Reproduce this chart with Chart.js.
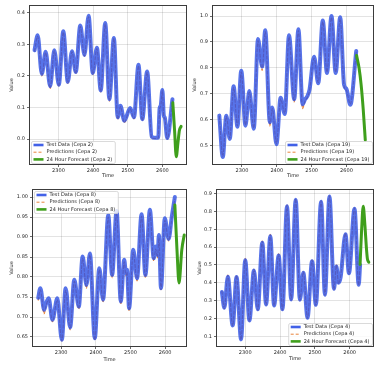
<!DOCTYPE html>
<html><head><meta charset="utf-8">
<script src="https://cdn.jsdelivr.net/npm/chart.js@4.4.1/dist/chart.umd.min.js"></script>
<style>
html,body{margin:0;padding:0;background:#fff;width:375px;height:366px;overflow:hidden}
canvas{position:absolute}
</style></head><body>
<canvas id="c1" width="190" height="183" style="left:0;top:0"></canvas>
<canvas id="c2" width="188" height="183" style="left:187px;top:0"></canvas>
<canvas id="c3" width="190" height="183" style="left:0;top:183px"></canvas>
<canvas id="c4" width="188" height="183" style="left:187px;top:183px"></canvas>
<script>
// ---------- data ----------
const xTicks = [2300, 2400, 2500, 2600];

// Cepa 2
const time1 = [2231, 2240, 2252, 2263, 2276, 2288, 2301, 2314, 2327, 2339, 2350, 2363, 2375, 2387, 2399, 2411, 2422, 2435, 2447, 2460, 2471, 2479, 2490, 2507, 2518, 2531, 2542, 2556, 2569, 2579, 2588, 2592, 2595, 2600, 2604, 2607, 2614, 2629];
const test1 = [0.281, 0.328, 0.206, 0.276, 0.167, 0.281, 0.172, 0.341, 0.181, 0.278, 0.212, 0.359, 0.266, 0.390, 0.209, 0.289, 0.154, 0.367, 0.126, 0.320, 0.069, 0.105, 0.058, 0.098, 0.069, 0.235, 0.063, 0.214, 0.008, 0.004, 0.005, 0.098, 0.105, 0.155, 0.075, 0.068, 0.003, 0.126];
const pred1 = [0.278, 0.325, 0.200, 0.273, 0.160, 0.279, 0.166, 0.338, 0.176, 0.276, 0.207, 0.356, 0.262, 0.387, 0.204, 0.286, 0.149, 0.364, 0.120, 0.318, 0.062, 0.103, 0.052, 0.096, 0.064, 0.232, 0.058, 0.211, 0.004, 0.002, 0.003, 0.095, 0.103, 0.153, 0.071, 0.065, 0.000, 0.123];
const fcTime1 = [2630, 2635, 2640, 2645, 2649, 2654];
const fc1 = [0.115, 0.030, -0.056, -0.010, 0.027, 0.040];
const yTicks1 = [0.0, 0.1, 0.2, 0.3, 0.4];
const labels1 = ['Test Data (Cepa 2)', 'Predictions (Cepa 2)', '24 Hour Forecast (Cepa 2)'];

// Cepa 19
const time2 = [2235, 2245, 2255, 2265, 2276, 2287, 2298, 2310, 2321, 2334, 2346, 2358, 2367, 2380, 2387, 2399, 2411, 2423, 2435, 2450, 2462, 2474, 2481, 2488, 2494, 2507, 2519, 2532, 2544, 2557, 2569, 2582, 2593, 2600, 2611, 2628];
const test2 = [0.615, 0.455, 0.615, 0.525, 0.729, 0.572, 0.789, 0.576, 0.710, 0.564, 0.911, 0.805, 0.945, 0.589, 0.646, 0.504, 0.684, 0.621, 0.926, 0.678, 0.949, 0.659, 0.678, 0.691, 0.716, 0.843, 0.740, 0.983, 0.780, 1.000, 0.780, 0.996, 0.735, 0.718, 0.657, 0.865];
const pred2 = [0.612, 0.458, 0.612, 0.528, 0.724, 0.575, 0.784, 0.579, 0.706, 0.567, 0.905, 0.790, 0.940, 0.575, 0.642, 0.507, 0.680, 0.624, 0.920, 0.668, 0.944, 0.642, 0.672, 0.686, 0.712, 0.838, 0.743, 0.978, 0.783, 0.995, 0.783, 0.990, 0.730, 0.712, 0.660, 0.860];
const fcTime2 = [2629, 2636, 2642, 2648, 2654];
const fc2 = [0.848, 0.800, 0.735, 0.640, 0.520];
const yTicks2 = [0.5, 0.6, 0.7, 0.8, 0.9, 1.0];
const labels2 = ['Test Data (Cepa 19)', 'Predictions (Cepa 19)', '24 Hour Forecast (Cepa 19)'];

// Cepa 8
const time3 = [2234, 2240, 2251, 2257, 2264, 2275, 2289, 2302, 2313, 2326, 2338, 2351, 2362, 2373, 2383, 2397, 2410, 2421, 2436, 2447, 2460, 2472, 2482, 2487, 2490, 2496, 2508, 2519, 2532, 2543, 2556, 2567, 2573, 2578, 2582, 2588, 2599, 2610, 2619, 2628];
const test3 = [0.748, 0.772, 0.718, 0.735, 0.747, 0.693, 0.747, 0.643, 0.772, 0.674, 0.793, 0.726, 0.851, 0.780, 0.859, 0.647, 0.822, 0.743, 0.955, 0.805, 0.965, 0.739, 0.843, 0.810, 0.818, 0.722, 0.868, 0.797, 0.957, 0.805, 0.968, 0.847, 0.876, 0.855, 0.905, 0.772, 0.947, 0.895, 0.950, 1.000];
const pred3 = [0.742, 0.768, 0.708, 0.730, 0.743, 0.688, 0.743, 0.640, 0.767, 0.668, 0.789, 0.720, 0.846, 0.772, 0.855, 0.642, 0.818, 0.738, 0.950, 0.798, 0.960, 0.732, 0.838, 0.803, 0.812, 0.715, 0.862, 0.790, 0.952, 0.798, 0.962, 0.840, 0.870, 0.848, 0.898, 0.768, 0.942, 0.890, 0.945, 0.995];
const fcTime3 = [2628, 2634, 2640, 2648, 2655];
const fc3 = [0.980, 0.870, 0.785, 0.868, 0.905];
const yTicks3 = [0.65, 0.70, 0.75, 0.80, 0.85, 0.90, 0.95, 1.00];
const labels3 = ['Test Data (Cepa 8)', 'Predictions (Cepa 8)', '24 Hour Forecast (Cepa 8)'];

// Cepa 4
const time4 = [2233, 2240, 2250, 2264, 2275, 2288, 2300, 2312, 2325, 2336, 2349, 2360, 2372, 2383, 2396, 2407, 2420, 2432, 2445, 2457, 2467, 2479, 2492, 2503, 2518, 2529, 2542, 2555, 2562, 2568, 2574, 2588, 2598, 2614, 2626, 2630];
const test4 = [0.348, 0.260, 0.434, 0.161, 0.432, 0.083, 0.527, 0.189, 0.469, 0.251, 0.624, 0.279, 0.661, 0.273, 0.553, 0.251, 0.829, 0.307, 0.866, 0.305, 0.456, 0.204, 0.521, 0.277, 0.855, 0.333, 0.884, 0.366, 0.491, 0.400, 0.430, 0.672, 0.454, 0.815, 0.389, 0.500];
const pred4 = [0.352, 0.255, 0.444, 0.158, 0.442, 0.080, 0.537, 0.185, 0.476, 0.246, 0.634, 0.275, 0.672, 0.270, 0.562, 0.247, 0.836, 0.303, 0.872, 0.300, 0.462, 0.200, 0.528, 0.273, 0.860, 0.330, 0.888, 0.362, 0.500, 0.396, 0.434, 0.678, 0.450, 0.820, 0.386, 0.497];
const fcTime4 = [2630, 2634, 2639, 2644, 2648, 2651, 2655];
const fc4 = [0.503, 0.680, 0.829, 0.720, 0.600, 0.535, 0.515];
const yTicks4 = [0.1, 0.2, 0.3, 0.4, 0.5, 0.6, 0.7, 0.8, 0.9];
const labels4 = ['Test Data (Cepa 4)', 'Predictions (Cepa 4)', '24 Hour Forecast (Cepa 4)'];

// ---------- styles ----------
const TEST_COLOR = 'rgba(45,80,228,0.8)';
const PRED_COLOR = '#e8833a';
const FC_COLOR = '#3f9f1c';
const FONT = '"DejaVu Sans", sans-serif';
const TXT = '#262626';

const framePlugin = {
  id: 'frame',
  afterDraw(chart) {
    const ctx = chart.ctx, a = chart.chartArea;
    ctx.save();
    ctx.strokeStyle = '#3c3c3c';
    ctx.lineWidth = 1;
    ctx.strokeRect(Math.round(a.left) + 0.5, Math.round(a.top) + 0.5,
                   Math.round(a.right - a.left) - 1, Math.round(a.bottom - a.top) - 1);
    ctx.restore();
  }
};

const legendPlugin = {
  id: 'boxLegend',
  afterDraw(chart, args, o) {
    const ctx = chart.ctx, a = chart.chartArea;
    ctx.save();
    ctx.font = o.fontSize + 'px ' + FONT;
    const tw = Math.max(...o.labels.map(t => ctx.measureText(t).width));
    const w = 2.5 + 10 + 3 + tw + 2.5, h = 22;
    let x, y;
    if (o.loc === 'lower left') { x = a.left + 2; y = a.bottom - 2 - h; }
    else if (o.loc === 'lower right') { x = a.right - 2 - w; y = a.bottom - 2 - h; }
    else { x = a.left + 2; y = a.top + 2; }
    ctx.fillStyle = 'rgba(255,255,255,0.8)';
    ctx.strokeStyle = '#d0d0d0';
    ctx.lineWidth = 0.8;
    ctx.beginPath();
    ctx.roundRect(x + 0.5, y + 0.5, w, h, 1.5);
    ctx.fill(); ctx.stroke();
    const ds = chart.data.datasets;
    o.labels.forEach((t, i) => {
      const cy = y + 4 + i * 7.2;
      const d = ds[i];
      ctx.strokeStyle = i === 0 ? 'rgba(45,80,228,0.9)' : d.borderColor;
      ctx.lineWidth = i === 1 ? 1 : 2.6;
      ctx.setLineDash(d.borderDash || []);
      ctx.beginPath(); ctx.moveTo(x + 2.5, cy); ctx.lineTo(x + 12.5, cy); ctx.stroke();
      ctx.setLineDash([]);
      ctx.fillStyle = TXT;
      ctx.textBaseline = 'middle';
      ctx.textAlign = 'left';
      ctx.fillText(t, x + 15.5, cy);
    });
    ctx.restore();
  }
};

function pts(xs, ys) { return xs.map((t, i) => ({ x: t, y: ys[i] })); }

function makeChart(id, c) {
  new Chart(document.getElementById(id), {
    type: 'line',
    data: {
      datasets: [
        { label: c.labels[0], data: pts(c.time, c.test), borderColor: TEST_COLOR, borderWidth: 4, order: 2 },
        { label: c.labels[1], data: pts(c.time, c.pred), borderColor: PRED_COLOR, borderWidth: 1.1, borderDash: [3, 2], order: 3 },
        { label: c.labels[2], data: pts(c.fcTime, c.fc), borderColor: FC_COLOR, borderWidth: 3, order: 1 }
      ]
    },
    options: {
      responsive: false,
      animation: false,
      devicePixelRatio: 1,
      layout: { padding: c.pad },
      elements: {
        point: { radius: 0, hoverRadius: 0 },
        line: { cubicInterpolationMode: 'monotone', fill: false, borderCapStyle: 'round', borderJoinStyle: 'round' }
      },
      plugins: {
        legend: { display: false },
        tooltip: { enabled: false },
        boxLegend: { labels: c.labels, loc: c.loc, fontSize: 5 }
      },
      scales: {
        x: {
          type: 'linear', min: c.xMin, max: c.xMax,
          afterFit: s => { s.height = c.xH; },
          afterBuildTicks: s => { s.ticks = xTicks.map(v => ({ value: v })); },
          ticks: { callback: v => String(v), font: { size: 5, family: FONT }, color: TXT, padding: 1, maxRotation: 0, autoSkip: false },
          grid: { color: 'rgba(0,0,0,0.14)', lineWidth: 0.8, tickLength: 2, tickColor: '#444' },
          border: { display: false },
          title: { display: true, text: 'Time', font: { size: 5, family: FONT }, color: TXT, padding: { top: 0, bottom: c.xTitlePad } }
        },
        y: {
          type: 'linear', min: c.yMin, max: c.yMax,
          afterFit: s => { s.width = c.yW; },
          afterBuildTicks: s => { s.ticks = c.yTicks.map(v => ({ value: v })); },
          ticks: { callback: v => v.toFixed(c.dec), font: { size: 5, family: FONT }, color: TXT, padding: 2, autoSkip: false },
          grid: { color: 'rgba(0,0,0,0.14)', lineWidth: 0.8, tickLength: 2, tickColor: '#444' },
          border: { display: false },
          title: { display: true, text: 'Value', font: { size: 5, family: FONT }, color: TXT, padding: { top: c.yTitlePad, bottom: 0 } }
        }
      }
    },
    plugins: [framePlugin, legendPlugin]
  });
}

makeChart('c1', { time: time1, test: test1, pred: pred1, fcTime: fcTime1, fc: fc1, yTicks: yTicks1, labels: labels1,
  dec: 1, xMin: 2215, xMax: 2671, yMin: -0.082, yMax: 0.424, pad: { left: 0, right: 3, top: 3, bottom: 0 },
  yW: 29, xH: 18, xTitlePad: 4, yTitlePad: 9, loc: 'lower left' });
makeChart('c2', { time: time2, test: test2, pred: pred2, fcTime: fcTime2, fc: fc2, yTicks: yTicks2, labels: labels2,
  dec: 1, xMin: 2214, xMax: 2679, yMin: 0.424, yMax: 1.043, pad: { left: 0, right: 1, top: 3, bottom: 0 },
  yW: 25, xH: 18, xTitlePad: 4, yTitlePad: 5, loc: 'lower right' });
makeChart('c3', { time: time3, test: test3, pred: pred3, fcTime: fcTime3, fc: fc3, yTicks: yTicks3, labels: labels3,
  dec: 2, xMin: 2216, xMax: 2663, yMin: 0.625, yMax: 1.02, pad: { left: 0, right: 3, top: 6, bottom: 0 },
  yW: 32, xH: 19, xTitlePad: 3, yTitlePad: 9, loc: 'upper left' });
makeChart('c4', { time: time4, test: test4, pred: pred4, fcTime: fcTime4, fc: fc4, yTicks: yTicks4, labels: labels4,
  dec: 1, xMin: 2216, xMax: 2670, yMin: 0.04, yMax: 0.926, pad: { left: 0, right: 1, top: 6, bottom: 0 },
  yW: 29, xH: 19, xTitlePad: 4, yTitlePad: 10, loc: 'lower right' });
</script>
</body></html>
